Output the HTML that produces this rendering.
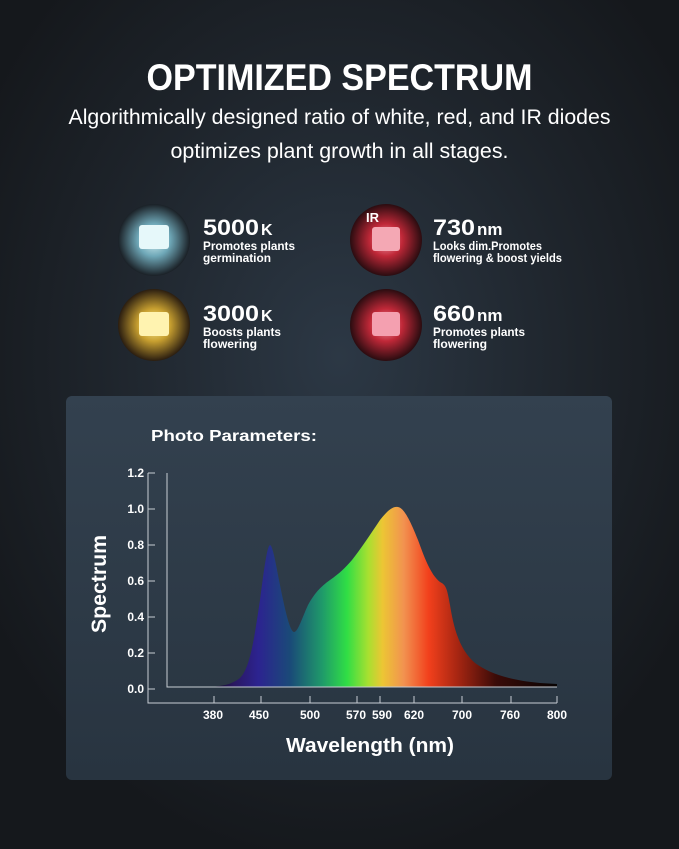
<!DOCTYPE html>
<html><head><meta charset="utf-8"><style>
html,body{margin:0;padding:0;background:#16191d;}
svg{display:block}
text{font-family:"Liberation Sans",sans-serif;fill:#fff}
</style></head><body>
<svg width="679" height="849" viewBox="0 0 679 849" xmlns="http://www.w3.org/2000/svg">
<defs>
<radialGradient id="bg" cx="0.5" cy="0.42" r="0.6">
<stop offset="0" stop-color="#2c3845"/><stop offset="0.6" stop-color="#1e242b"/><stop offset="1" stop-color="#15181c"/>
</radialGradient>
<linearGradient id="panel" x1="0" y1="0" x2="0" y2="1">
<stop offset="0" stop-color="#33414f"/><stop offset="1" stop-color="#283440"/>
</linearGradient>
<linearGradient id="spec" gradientUnits="userSpaceOnUse" x1="205" y1="0" x2="560" y2="0">
<stop offset="0" stop-color="#05040a"/>
<stop offset="0.08" stop-color="#2a1760"/>
<stop offset="0.15" stop-color="#2c2390"/>
<stop offset="0.24" stop-color="#1a4a78"/>
<stop offset="0.33" stop-color="#1f9a6a"/>
<stop offset="0.40" stop-color="#30de45"/>
<stop offset="0.46" stop-color="#a8e030"/>
<stop offset="0.50" stop-color="#ecc634"/>
<stop offset="0.56" stop-color="#f29250"/>
<stop offset="0.63" stop-color="#f2401c"/>
<stop offset="0.71" stop-color="#a82612"/>
<stop offset="0.82" stop-color="#3a0b08"/>
<stop offset="1" stop-color="#050303"/>
</linearGradient>
<radialGradient id="c1"><stop offset="0" stop-color="#d8f2f4"/><stop offset="0.45" stop-color="#6fa8b8"/><stop offset="1" stop-color="#1a2026"/></radialGradient>
<radialGradient id="c2"><stop offset="0" stop-color="#fff6a0"/><stop offset="0.45" stop-color="#c8a030"/><stop offset="1" stop-color="#2a1d10"/></radialGradient>
<radialGradient id="c3"><stop offset="0" stop-color="#f6a0b0"/><stop offset="0.45" stop-color="#c02838"/><stop offset="1" stop-color="#2a0c10"/></radialGradient>
</defs>
<rect width="679" height="849" fill="url(#bg)"/>
<text x="339.5" y="90" font-size="37" font-weight="bold" text-anchor="middle" textLength="386" lengthAdjust="spacingAndGlyphs">OPTIMIZED SPECTRUM</text>
<text x="339.5" y="124" font-size="21" text-anchor="middle" textLength="542" lengthAdjust="spacingAndGlyphs">Algorithmically designed ratio of white, red, and IR diodes</text>
<text x="339.5" y="158" font-size="21" text-anchor="middle" textLength="338" lengthAdjust="spacingAndGlyphs">optimizes plant growth in all stages.</text>

<circle cx="154" cy="240" r="36" fill="url(#c1)"/>
<rect x="139" y="225" width="30" height="24" rx="3" fill="#e6f8fa" transform="rotate(0)"/>
<circle cx="154" cy="325" r="36" fill="url(#c2)"/>
<rect x="139" y="312" width="30" height="24" rx="3" fill="#fff3b0"/>
<circle cx="386" cy="240" r="36" fill="url(#c3)"/>
<rect x="372" y="227" width="28" height="24" rx="3" fill="#f4a8b4"/>
<text x="366" y="222" font-size="13" font-weight="bold">IR</text>
<circle cx="386" cy="325" r="36" fill="url(#c3)"/>
<rect x="372" y="312" width="28" height="24" rx="3" fill="#f4a0b0"/>

<text x="203" y="235" font-size="22" font-weight="bold" textLength="56" lengthAdjust="spacingAndGlyphs">5000</text>
<text x="261" y="235" font-size="16" font-weight="bold">K</text>
<text x="203" y="250" font-size="12" font-weight="bold" textLength="92" lengthAdjust="spacingAndGlyphs">Promotes plants</text>
<text x="203" y="262" font-size="12" font-weight="bold" textLength="68" lengthAdjust="spacingAndGlyphs">germination</text>

<text x="203" y="321" font-size="22" font-weight="bold" textLength="56" lengthAdjust="spacingAndGlyphs">3000</text>
<text x="261" y="321" font-size="16" font-weight="bold">K</text>
<text x="203" y="336" font-size="12" font-weight="bold" textLength="78" lengthAdjust="spacingAndGlyphs">Boosts plants</text>
<text x="203" y="348" font-size="12" font-weight="bold" textLength="54" lengthAdjust="spacingAndGlyphs">flowering</text>

<text x="433" y="235" font-size="22" font-weight="bold" textLength="42" lengthAdjust="spacingAndGlyphs">730</text>
<text x="477" y="235" font-size="17" font-weight="bold">nm</text>
<text x="433" y="250" font-size="12" font-weight="bold" textLength="109" lengthAdjust="spacingAndGlyphs">Looks dim.Promotes</text>
<text x="433" y="262" font-size="12" font-weight="bold" textLength="129" lengthAdjust="spacingAndGlyphs">flowering &amp; boost yields</text>

<text x="433" y="321" font-size="22" font-weight="bold" textLength="42" lengthAdjust="spacingAndGlyphs">660</text>
<text x="477" y="321" font-size="17" font-weight="bold">nm</text>
<text x="433" y="336" font-size="12" font-weight="bold" textLength="92" lengthAdjust="spacingAndGlyphs">Promotes plants</text>
<text x="433" y="348" font-size="12" font-weight="bold" textLength="54" lengthAdjust="spacingAndGlyphs">flowering</text>

<rect x="66" y="396" width="546" height="384" rx="6" fill="url(#panel)"/>
<text x="151" y="441" font-size="16" font-weight="bold" textLength="166" lengthAdjust="spacingAndGlyphs">Photo Parameters:</text>

<path d="M209 687 C225 686 232 684 240 678 C250 668 254 640 260 600 C264 570 267 546 270 545 C273 546 276 565 280 585 C285 610 290 632 294 632 C298 632 302 618 308 605 C314 594 320 587 330 580 C340 573 345 568 352 560 C360 550 370 535 380 520 C388 510 393 506 398 507 C404 508 410 520 418 540 C424 556 430 574 440 582 C446 585 447 588 450 605 C454 630 460 650 475 663 C490 674 510 680 540 683 L557 684 L557 687 Z" fill="url(#spec)"/>

<g stroke="#c8ced4" stroke-width="1" fill="none">
<path d="M148 473 V703 H557"/>
<path d="M167 473 V687 H557"/>
<path d="M148 473 H155 M148 509 H155 M148 545 H155 M148 581 H155 M148 617 H155 M148 653 H155 M148 689 H155"/>
<path d="M214 703 V696 M261 703 V696 M310 703 V696 M357 703 V696 M380 703 V696 M414 703 V696 M462 703 V696 M511 703 V696 M557 703 V696"/>
</g>
<g font-size="12" font-weight="bold" text-anchor="end">
<text x="144" y="477">1.2</text><text x="144" y="513">1.0</text><text x="144" y="549">0.8</text>
<text x="144" y="585">0.6</text><text x="144" y="621">0.4</text><text x="144" y="657">0.2</text><text x="144" y="693">0.0</text>
</g>
<g font-size="12" font-weight="bold" text-anchor="middle">
<text x="213" y="719">380</text><text x="259" y="719">450</text><text x="310" y="719">500</text>
<text x="356" y="719">570</text><text x="382" y="719">590</text><text x="414" y="719">620</text>
<text x="462" y="719">700</text><text x="510" y="719">760</text><text x="557" y="719">800</text>
</g>
<text x="370" y="752" font-size="20" font-weight="bold" text-anchor="middle" textLength="168" lengthAdjust="spacingAndGlyphs">Wavelength (nm)</text>
<text transform="translate(106,584) rotate(-90)" font-size="21" font-weight="bold" text-anchor="middle" textLength="98" lengthAdjust="spacingAndGlyphs">Spectrum</text>
</svg>
</body></html>
